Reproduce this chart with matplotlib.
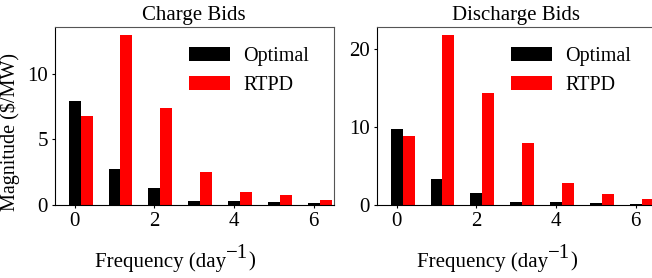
import numpy as np
import matplotlib
matplotlib.use("Agg")
import matplotlib.pyplot as plt

plt.rcParams['font.family'] = ['Liberation Serif', 'DejaVu Serif']
plt.rcParams['font.size'] = 15

freq = [0, 1, 2, 3, 4, 5, 6]
xticks = [0, 2, 4, 6]

charge_optimal = [7.96, 2.75, 1.32, 0.33, 0.33, 0.25, 0.18]
charge_rtpd = [6.82, 12.93, 7.43, 2.54, 1.02, 0.79, 0.41]

discharge_optimal = [9.81, 3.34, 1.58, 0.43, 0.43, 0.30, 0.17]
discharge_rtpd = [8.91, 21.76, 14.39, 8.01, 2.87, 1.46, 0.81]

titles = ['Charge Bids', 'Discharge Bids']
width = 0.3

fig = plt.figure(figsize=(6.52, 2.78), dpi=100)
W, H = 652, 278
ax1 = fig.add_axes([54.7 / W, 73 / H, 279 / W, 178 / H])
ax2 = fig.add_axes([376.7 / W, 73 / H, 279 / W, 178 / H])


def freq_label(ax):
    # x label with a full-size "-1" superscript, like the LaTeX original
    t1 = ax.text(0.144, -0.375, 'Frequency (day', transform=ax.transAxes,
                 ha='left', va='bottom', fontsize=15)
    t2 = ax.annotate('\u22121', xy=(1, 0.45), xycoords=t1, ha='left',
                     va='bottom', fontsize=15)
    ax.annotate(')', xy=(1, 0), xycoords=(t2, t1), ha='left',
                va='bottom', fontsize=15)


x = np.array(freq)
for ax, opt, rtpd, title in [(ax1, charge_optimal, charge_rtpd, titles[0]),
                             (ax2, discharge_optimal, discharge_rtpd, titles[1])]:
    ax.bar(x, opt, width, color='black', label='Optimal')
    ax.bar(x + width, rtpd, width, color='red', label='RTPD')
    ax.set_xlim(-0.5, 6.5)
    ax.set_xticks(xticks)
    ax.set_title(title, fontsize=15, pad=5)
    freq_label(ax)
    ax.tick_params(length=2, width=0.8, pad=3)
    ax.spines['top'].set_color('#555555')
    ax.spines['right'].set_color('#555555')
    ax.legend(loc='upper right', frameon=False, fontsize=14.5, handlelength=2.05,
              handletextpad=0.65, labelspacing=0.5, borderaxespad=0.6,
              bbox_to_anchor=(0.985, 1.0))

ax1.set_ylabel('Magnitude ($/MW)', fontsize=14.5)
ax1.yaxis.set_label_coords(-0.125, 0.41)

fig.savefig('out.png', dpi=100)
